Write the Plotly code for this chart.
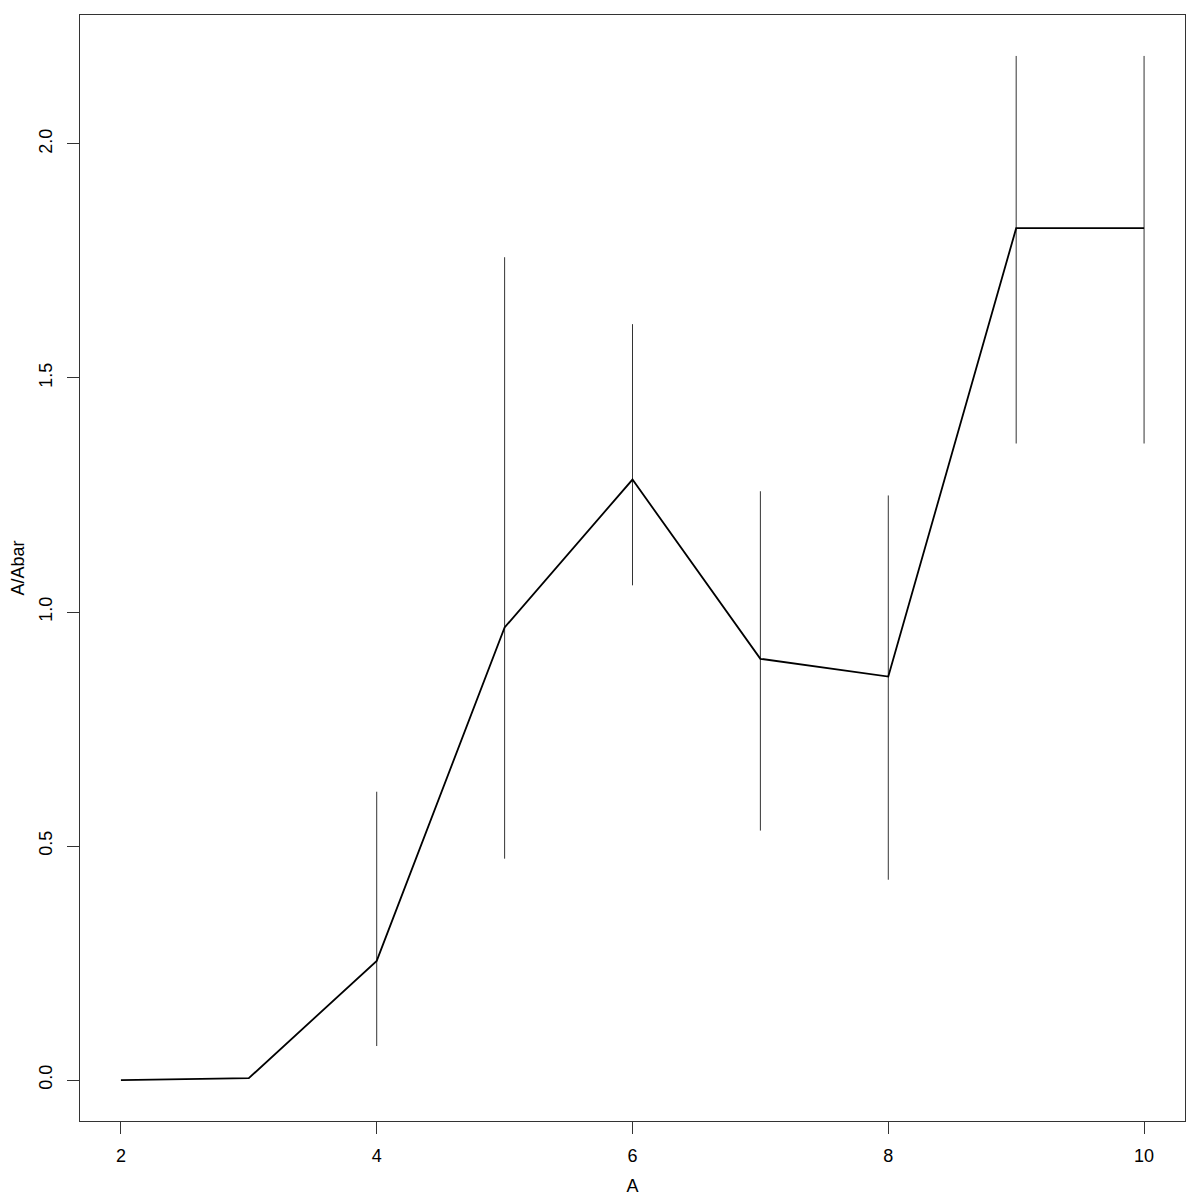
import plotly.graph_objects as go

x_vals = [2, 3, 4, 5, 6, 7, 8, 9, 10]
y_vals = [0.0, 0.004, 0.2545, 0.967, 1.283, 0.900, 0.862, 1.820, 1.820]
y_upper = [None, None, 0.616, 1.758, 1.615, 1.258, 1.249, 2.188, 2.188]
y_lower = [None, None, 0.0727, 0.473, 1.057, 0.533, 0.428, 1.360, 1.360]
x_ticks = [2, 4, 6, 8, 10]
y_ticks = [0.0, 0.5, 1.0, 1.5, 2.0]
y_tick_text = ["0.0", "0.5", "1.0", "1.5", "2.0"]

err_plus = [(u - y) if u is not None else 0 for u, y in zip(y_upper, y_vals)]
err_minus = [(y - l) if l is not None else 0 for l, y in zip(y_lower, y_vals)]

FONT = "Liberation Sans, Arial, sans-serif"

fig = go.Figure()
fig.add_trace(go.Scatter(
    x=x_vals, y=y_vals, mode="lines",
    line=dict(color="black", width=1.8),
    error_y=dict(type="data", symmetric=False, array=err_plus, arrayminus=err_minus,
                 width=0, thickness=1, color="#333333", visible=True),
    showlegend=False,
))

axis_common = dict(
    showgrid=False, zeroline=False, showline=True, linecolor="#333333", linewidth=1,
    mirror=True, ticks="outside", ticklen=12, tickcolor="#333333", tickwidth=1,
    automargin=False,
    tickfont=dict(family=FONT, size=18, color="black"),
)

fig.update_layout(
    width=1200, height=1200,
    paper_bgcolor="white", plot_bgcolor="white",
    margin=dict(l=72, r=23, t=7, b=87),
    xaxis=dict(range=[1.68, 10.32], tickvals=x_ticks, ticklabelstandoff=6,
               title=dict(text="A", standoff=14, font=dict(family=FONT, size=18, color="black")),
               **axis_common),
    yaxis=dict(range=[-0.0875, 2.2755], tickvals=y_ticks, ticktext=y_tick_text, tickangle=-90,
               ticklabelstandoff=8,
               title=dict(text="A/Abar", standoff=20, font=dict(family=FONT, size=18, color="black")),
               **axis_common),
)

fig.write_html("out.html")
